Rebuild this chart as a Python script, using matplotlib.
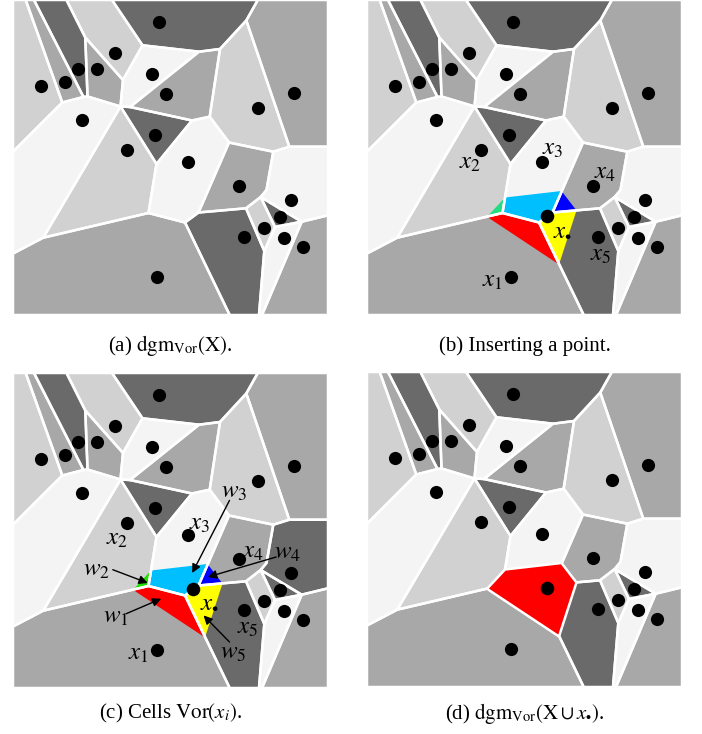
import matplotlib
matplotlib.use('Agg')
import matplotlib.pyplot as plt
from matplotlib.patches import Polygon
from matplotlib.path import Path

plt.rcParams['font.family'] = 'Liberation Serif'
plt.rcParams['mathtext.fontset'] = 'stix'

# voronoi vertices, panel units (0..315, y grows downward)
vertex_names = ['TL', 'TR', 'BR', 'BL', 'T1', 'T2', 'T3', 'T4', 'T5',
                'L1', 'L2', 'R1', 'R2', 'B1', 'B2', 'B3',
                'V1', 'V2', 'V3', 'V4', 'V5', 'V6', 'V7', 'V8', 'V9', 'V10',
                'V11', 'V12', 'V13', 'V14', 'V15', 'V16', 'V17', 'V18', 'V19',
                'V20', 'V21', 'V22', 'V23', 'V24', 'V25', 'V26', 'V27']
vertex_x = [0, 315, 315, 0, 12.7, 21, 53.5, 99, 244.8,
            0, 0, 315, 315, 216.7, 246, 249,
            49.3, 70.5, 74.5, 72.3, 110, 107.5, 129.5, 186, 207, 233.3,
            117, 179, 143.5, 196.7, 216, 185.5, 172, 135.5, 30.2,
            276.3, 260.3, 253.5, 247.7, 233, 288.7, 262, 251.3]
vertex_y = [0, 0, 315, 315, 0, 0, 0, 0, 0,
            151.7, 253.5, 146.7, 215.3, 315, 315, 315,
            102.5, 97, 96.5, 37.5, 80, 106.5, 45.3, 51.7, 49, 20.5,
            107, 120.5, 164, 116.7, 142.5, 212.5, 222.5, 213, 237.7,
            146.7, 151.7, 190, 197, 208.3, 221.7, 227, 251]

# one cell per site, in site order
cells = [
    ['T4', 'T5', 'V10', 'V9', 'V8', 'V7'],
    ['T3', 'T4', 'V7', 'V5', 'V4'],
    ['T2', 'T3', 'V4', 'V3', 'V2'],
    ['V4', 'V5', 'V6', 'V3'],
    ['V7', 'V8', 'V11', 'V6', 'V5'],
    ['TL', 'T1', 'V1', 'L1'],
    ['T1', 'T2', 'V2', 'V1'],
    ['V11', 'V8', 'V9', 'V14', 'V12'],
    ['T5', 'TR', 'R1', 'V20', 'V10'],
    ['V9', 'V10', 'V20', 'V21', 'V15', 'V14'],
    ['L1', 'V1', 'V2', 'V3', 'V6', 'V19', 'L2'],
    ['V6', 'V11', 'V12', 'V13'],
    ['V19', 'V6', 'V13', 'V18'],
    ['V12', 'V14', 'V15', 'V16', 'V17', 'V18', 'V13'],
    ['V15', 'V21', 'V22', 'V23', 'V24', 'V16'],
    ['V21', 'V20', 'R1', 'R2', 'V25', 'V23', 'V22'],
    ['V23', 'V25', 'V26'],
    ['V24', 'V23', 'V26', 'V27'],
    ['V17', 'V16', 'V24', 'V27', 'B2', 'B1'],
    ['V26', 'V25', 'B3', 'B2', 'V27'],
    ['V25', 'R2', 'BR', 'B3'],
    ['L2', 'V19', 'V18', 'V17', 'B1', 'BL'],
]

site_x = [145.7, 101.7, 65, 84, 139.3, 28, 51.7, 152.7, 281.3, 245, 69.3,
          141.7, 114, 175.3, 226, 277.7, 267, 251, 230.7, 271.3, 290.3, 144]
site_y = [21.7, 53.3, 69.3, 69.3, 74, 86.3, 82.3, 94, 93.3, 108.3, 120,
          135, 150.3, 161.7, 186, 199.7, 216.7, 228.3, 236.7, 238.3, 246.7, 277.3]

# gray level of each cell: 0 dark .. 3 near white
level_a = [0, 2, 0, 1, 3, 2, 1, 1, 1, 2, 3, 0, 2, 3, 1, 3, 0, 2, 0, 3, 1, 1]
level_c = list(level_a)
level_c[15] = 0

# inserted point and its new cell
new_x, new_y = 179.5, 216
new_cell_x = [120, 138, 194.5, 209.5, 192]
new_cell_y = [216.8, 197.5, 191, 210.5, 264.5]

# old cells cut by the new cell (x1..x5) and their colours
cut_cells = [21, 12, 13, 14, 18]
cut_colors_b = ['#ff0000', '#22dd80', '#00bfff', '#0000ff', '#ffff00']
cut_colors_c = ['#ff0000', '#22e000', '#00bfff', '#0000ff', '#ffff00']

grays = ['#6a6a6a', '#a8a8a8', '#d1d1d1', '#f4f4f4']

V = dict(zip(vertex_names, zip(vertex_x, vertex_y)))
new_pts = list(zip(new_cell_x, new_cell_y))

W, H = 702, 734
fig = plt.figure(figsize=(W / 100, H / 100), dpi=100)


def make_ax(x0, y0):
    ax = fig.add_axes([x0 / W, 1 - (y0 + 315) / H, 315 / W, 315 / H])
    ax.set_xlim(0, 315)
    ax.set_ylim(315, 0)
    ax.axis('off')
    return ax


def draw_cells(ax, levels):
    for cell, lev in zip(cells, levels):
        pts = [V[n] for n in cell]
        ax.add_patch(Polygon(pts, closed=True, fc=grays[lev], ec='none', zorder=1))


def draw_edges(ax):
    for cell in cells:
        pts = [V[n] for n in cell]
        ax.add_patch(Polygon(pts, closed=True, fill=False, ec='white',
                             lw=1.8, zorder=3))


def draw_pieces(ax, colors):
    clip = Path(new_pts + [new_pts[0]], closed=True)
    for idx, col in zip(cut_cells, colors):
        pts = [V[n] for n in cells[idx]]
        p = Polygon(pts, closed=True, fc=col, ec='none', zorder=2)
        ax.add_patch(p)
        p.set_clip_path(clip, ax.transData)


def draw_sites(ax, extra=False):
    ax.scatter(site_x, site_y, s=90, c='black', linewidths=0, zorder=5)
    if extra:
        ax.scatter([new_x], [new_y], s=95, c='black', linewidths=0, zorder=5)


def label(ax, x, y, s):
    ax.text(x, y, s, fontsize=18, ha='center', va='center', zorder=6)


# (a)
ax = make_ax(13, 0)
draw_cells(ax, level_a)
draw_edges(ax)
draw_sites(ax)

# (b)
ax = make_ax(367, 0)
draw_cells(ax, level_a)
draw_pieces(ax, cut_colors_b)
draw_edges(ax)
draw_sites(ax, extra=True)
label(ax, 125, 281, r'$x_1$')
label(ax, 103.3, 163, r'$x_2$')
label(ax, 186, 148.6, r'$x_3$')
label(ax, 238.3, 173, r'$x_4$')
label(ax, 234, 255.3, r'$x_5$')
label(ax, 196, 230.3, r'$x_{\bullet}$')

# (c)
ax = make_ax(13, 373)
draw_cells(ax, level_c)
draw_pieces(ax, cut_colors_c)
draw_edges(ax)
draw_sites(ax, extra=True)
label(ax, 125.8, 280.7, r'$x_1$')
label(ax, 103.8, 165.7, r'$x_2$')
label(ax, 186.5, 151.4, r'$x_3$')
label(ax, 239.8, 179, r'$x_4$')
label(ax, 234.8, 254.7, r'$x_5$')
label(ax, 196.5, 230, r'$x_{\bullet}$')
w_labels = [(103.2, 244, (113.2, 240.7), (148.2, 225.7)),
            (83.8, 196.7, (99.8, 196.7), (134.8, 210)),
            (221.5, 119, (216.5, 127.4), (179.2, 200)),
            (274.8, 180, (263.2, 184), (194.8, 204)),
            (219.8, 280, (216.5, 269), (190.5, 242.4))]
for i, (tx, ty, tail, head) in enumerate(w_labels):
    label(ax, tx, ty, r'$w_%d$' % (i + 1))
    ax.annotate('', xy=head, xytext=tail, zorder=6,
                arrowprops=dict(arrowstyle='-|>', color='black', lw=1.0,
                                mutation_scale=13, shrinkA=0, shrinkB=0))

# (d)
ax = make_ax(367, 372)
draw_cells(ax, level_a)
draw_edges(ax)
ax.add_patch(Polygon(new_pts, closed=True, fc='#ff0000', ec='white', lw=1.8, zorder=4))
draw_sites(ax, extra=True)

# captions
caps = [(170, 346, r'(a) $\mathrm{dgm}_{\mathrm{Vor}}(\mathrm{X})$.'),
        (525, 346, r'(b) Inserting a point.'),
        (170, 713, r'(c) Cells $\mathrm{Vor}(x_{i})$.'),
        (525, 713, r'(d) $\mathrm{dgm}_{\mathrm{Vor}}(\mathrm{X}\cup x_{\bullet})$.')]
for cx, cy, s in caps:
    fig.text(cx / W, 1 - cy / H, s, ha='center', va='center', fontsize=15)

fig.savefig('out.png', dpi=100)
